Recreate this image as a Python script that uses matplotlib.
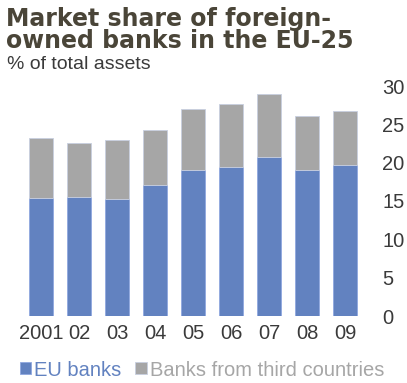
import matplotlib.pyplot as plt
import numpy as np

plt.rcParams['font.family'] = ['Liberation Sans', 'DejaVu Sans']

years = ['2001', '02', '03', '04', '05', '06', '07', '08', '09']
eu_banks = [15.4, 15.5, 15.3, 17.1, 19.1, 19.4, 20.7, 19.0, 19.7]
total = [23.2, 22.6, 23.0, 24.2, 27.0, 27.6, 29.0, 26.1, 26.7]
third_countries = [t - e for t, e in zip(total, eu_banks)]

blue = '#6282c0'
grey = '#a6a6a6'
text_col = '#3a3a3a'


def main():
    fig = plt.figure(figsize=(4.07, 3.83), dpi=100)
    # axes placed in pixel terms, then converted to figure fractions
    ax = fig.add_axes([22 / 407, 1 - 316 / 383, 352 / 407, 230 / 383])

    x = np.arange(len(years))
    b1 = ax.bar(x, eu_banks, width=0.63, color=blue, edgecolor='#8fa8e0', linewidth=0.6)
    b2 = ax.bar(x, third_countries, bottom=eu_banks, width=0.63, color=grey,
                edgecolor='#c8cfe0', linewidth=0.6)

    ax.set_xlim(-0.5, len(years) - 0.5 + 0.25)
    ax.set_ylim(0, 30)
    ax.set_yticks(range(0, 31, 5))
    ax.yaxis.tick_right()
    ax.tick_params(axis='y', length=0, pad=6, labelsize=14.5, labelcolor=text_col)
    ax.tick_params(axis='x', length=0, pad=6, labelsize=14.5, labelcolor=text_col)
    ax.set_xticks(x)
    ax.set_xticklabels(years)
    for lbl in ax.get_yticklabels():
        lbl.set_horizontalalignment('left')
    for s in ax.spines.values():
        s.set_visible(False)

    fig.text(0.015, 1 - 7 / 383, 'Market share of foreign-\nowned banks in the EU-25',
             family='DejaVu Sans', fontsize=17, fontweight='bold', color='#4a4538',
             va='top', linespacing=0.9)
    fig.text(0.017, 1 - 69 / 383, '% of total assets', fontsize=14, color=text_col,
             va='baseline')

    leg = fig.legend([b1, b2], ['EU banks', 'Banks from third countries'],
                     loc='center left', bbox_to_anchor=(20 / 407, 1 - 370 / 383), ncol=2,
                     frameon=False, fontsize=14.5, handlelength=0.55, handleheight=0.55,
                     handletextpad=0.15, columnspacing=0.7, borderaxespad=0, borderpad=0)
    for t, c in zip(leg.get_texts(), [blue, grey]):
        t.set_color(c)

    fig.savefig('out.png', dpi=100)


if __name__ == '__main__':
    main()
